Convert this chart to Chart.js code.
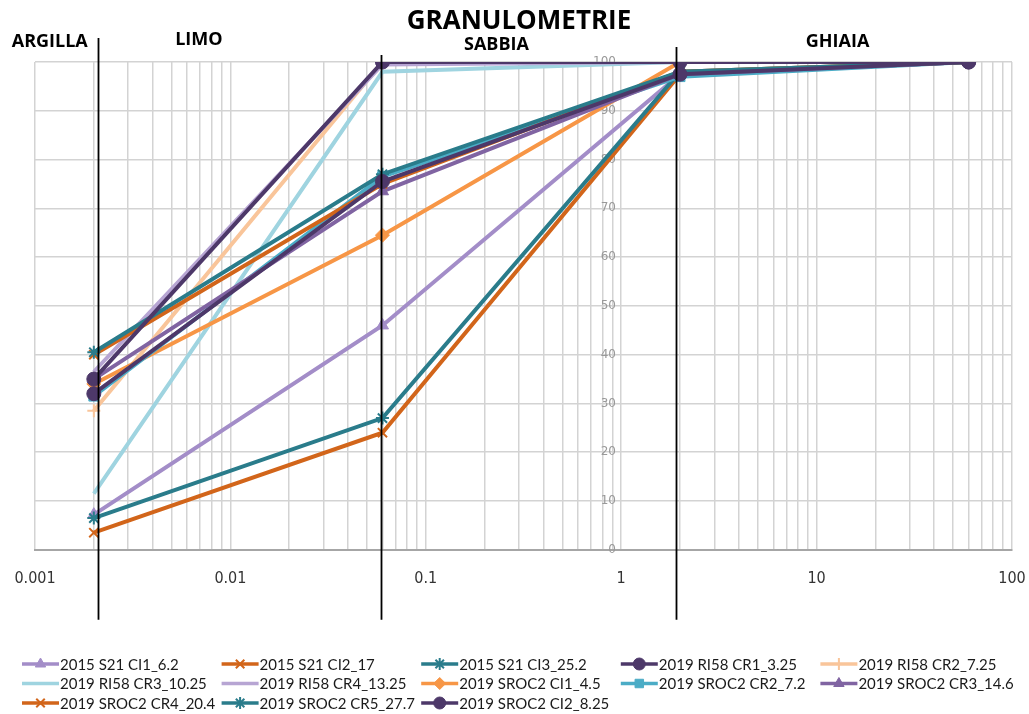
<!DOCTYPE html>
<html>
<head>
<meta charset="utf-8">
<title>Granulometrie</title>
<script src="https://cdn.jsdelivr.net/npm/chart.js@4.4.1/dist/chart.umd.min.js"></script>
<style>
  html, body { margin: 0; padding: 0; background: #fff; }
  #wrap { width: 1029px; height: 714px; position: relative; }
</style>
</head>
<body>
<div id="wrap"><canvas id="granChart"></canvas></div>
<script>
// diametri (mm) dei setacci
const sizes = [0.002, 0.06, 2, 60];

// passante cumulativo (%) per ogni campione
const s2015_CI1 = [7.2, 46, 97.5, 100];
const s2015_CI2 = [3.5, 24, 97.5, 100];
const s2015_CI3 = [6.5, 27, 98, 100];
const ri58_CR1 = [32, 75.5, 97.5, 100];
const ri58_CR2 = [28.5, 100, 100, 100];
const ri58_CR3 = [11.5, 98, 100, 100];
const ri58_CR4 = [36.5, 99.5, 100, 100];
const sroc2_CI1 = [34, 64.5, 100, 100];
const sroc2_CR2 = [31.5, 76.5, 97, 100];
const sroc2_CR3 = [35, 73.5, 97.5, 100];
const sroc2_CR4 = [40, 75, 98, 100];
const sroc2_CR5 = [40.5, 77, 98, 100];
const sroc2_CI2 = [35, 100, 100, 100];

const seriesNames = [
    '2015 S21 CI1_6.2', '2015 S21 CI2_17', '2015 S21 CI3_25.2', '2019 RI58 CR1_3.25', '2019 RI58 CR2_7.25',
    '2019 RI58 CR3_10.25', '2019 RI58 CR4_13.25', '2019 SROC2 CI1_4.5', '2019 SROC2 CR2_7.2', '2019 SROC2 CR3_14.6',
    '2019 SROC2 CR4_20.4', '2019 SROC2 CR5_27.7', '2019 SROC2 CI2_8.25'
];
const seriesValues = [
    s2015_CI1, s2015_CI2, s2015_CI3, ri58_CR1, ri58_CR2,
    ri58_CR3, ri58_CR4, sroc2_CI1, sroc2_CR2, sroc2_CR3,
    sroc2_CR4, sroc2_CR5, sroc2_CI2
];
const seriesColors = [
    '#A38DC8', '#D2651A', '#2A7C8B', '#4D3869', '#F9C59A',
    '#9FD4E0', '#B7A5D3', '#F79646', '#4BACC6', '#8064A2',
    '#D2651A', '#2A7C8B', '#4D3869'
];
const seriesMarkers = [
    'triangle', 'crossRot', 'star', 'circle', 'cross',
    false, false, 'rectRot', 'rect', 'triangle',
    'crossRot', 'star', 'circle'
];

// etichette asse x (decadi) e y
const xDecades = [0.001, 0.01, 0.1, 1, 10, 100];
const xTickLabels = ['0.001', '0.01', '0.1', '1', '10', '100'];
const yTicks = [0, 10, 20, 30, 40, 50, 60, 70, 80, 90, 100];

// limiti delle classi granulometriche
const zoneNames = ['ARGILLA', 'LIMO', 'SABBIA', 'GHIAIA'];
const zoneCenters = [0.00119, 0.0069, 0.23, 12.8];
const zoneBounds = [0.0021, 0.059, 1.9];

function isStroked(m) {
    return m === 'cross' || m === 'crossRot' || m === 'star';
}

// costruisce i dataset (le serie successive stanno sopra, CR1 in primo piano)
const datasets = seriesNames.map((name, i) => {
    const marker = seriesMarkers[i];
    return {
        label: name,
        data: sizes.map((s, j) => ({ x: s, y: seriesValues[i][j] })),
        borderColor: seriesColors[i],
        backgroundColor: seriesColors[i],
        borderWidth: 4,
        pointStyle: marker || 'circle',
        pointRadius: marker ? (isStroked(marker) ? 6.5 : 7) : 0,
        pointBorderWidth: isStroked(marker) ? 2 : 1,
        pointBackgroundColor: seriesColors[i],
        pointBorderColor: seriesColors[i],
        tension: 0,
        order: i === 3 ? -20 : -i
    };
});

// linee verticali, titolo, etichette classi
const decorPlugin = {
    id: 'decor',
    afterDatasetsDraw(chart) {
        const { ctx, chartArea, scales } = chart;
        const tops = [-24, -7, -15];
        ctx.save();
        ctx.strokeStyle = '#000';
        ctx.lineWidth = 1.8;
        zoneBounds.forEach((v, i) => {
            const px = Math.round(scales.x.getPixelForValue(v)) + 0.5;
            ctx.beginPath();
            ctx.moveTo(px, chartArea.top + tops[i]);
            ctx.lineTo(px, chartArea.bottom + 70);
            ctx.stroke();
        });
        ctx.restore();
    },
    afterDraw(chart) {
        const { ctx, chartArea, scales } = chart;
        ctx.save();
        ctx.fillStyle = '#000';
        ctx.textAlign = 'center';
        ctx.textBaseline = 'middle';
        ctx.font = 'bold 26px "Open Sans", sans-serif';
        ctx.fillText('GRANULOMETRIE', 519, 22);
        ctx.font = 'bold 18px "Open Sans", sans-serif';
        const offs = [-20, -22, -17, -20];
        zoneNames.forEach((z, i) => {
            ctx.fillText(z, scales.x.getPixelForValue(zoneCenters[i]), chartArea.top + offs[i]);
        });

        // legenda con linea + marcatore
        const left = 22, colW = 199.6, top = 664, rowH = 19.5, lineLen = 37;
        ctx.textAlign = 'left';
        ctx.font = '15px Lato, "Open Sans", sans-serif';
        chart.data.datasets.forEach((ds, i) => {
            const col = i % 5, row = Math.floor(i / 5);
            const x0 = left + col * colW, y0 = top + row * rowH;
            ctx.strokeStyle = ds.borderColor;
            ctx.lineWidth = 3.5;
            ctx.beginPath();
            ctx.moveTo(x0, y0);
            ctx.lineTo(x0 + lineLen, y0);
            ctx.stroke();
            if (seriesMarkers[i]) {
                ctx.fillStyle = ds.backgroundColor;
                ctx.lineWidth = ds.pointBorderWidth;
                Chart.helpers.drawPoint(ctx, {
                    pointStyle: seriesMarkers[i],
                    radius: 6,
                    rotation: 0,
                    borderWidth: ds.pointBorderWidth
                }, x0 + lineLen / 2, y0);
            }
            ctx.fillStyle = '#1a1a1a';
            ctx.fillText(ds.label, x0 + lineLen + 1, y0 + 1);
        });
        ctx.restore();
    }
};

const ctx = document.getElementById('granChart').getContext('2d');
new Chart(ctx, {
    type: 'line',
    data: { datasets: datasets },
    plugins: [decorPlugin],
    options: {
        responsive: true,
        maintainAspectRatio: false,
        animation: false,
        devicePixelRatio: 1,
        layout: { padding: { left: 35, right: 17, top: 62, bottom: 123 } },
        plugins: {
            legend: { display: false },
            tooltip: { enabled: false }
        },
        scales: {
            x: {
                type: 'logarithmic',
                min: 0.001,
                max: 100,
                afterBuildTicks(scale) {
                    const ticks = [];
                    xDecades.forEach((d, k) => {
                        if (k === xDecades.length - 1) { ticks.push({ value: d }); return; }
                        for (let m = 1; m <= 9; m++) ticks.push({ value: Number((m * d).toPrecision(3)) });
                    });
                    scale.ticks = ticks;
                },
                ticks: {
                    autoSkip: false,
                    maxRotation: 0,
                    padding: 3,
                    color: '#333',
                    font: { family: '"Liberation Sans Narrow", "DejaVu Sans Condensed", sans-serif', size: 16 },
                    callback(value) {
                        const k = xDecades.findIndex(d => Math.abs(d - value) < d * 1e-6);
                        return k >= 0 ? xTickLabels[k] : '';
                    }
                },
                grid: { color: '#D3D3D3', lineWidth: 1.5, drawTicks: true, tickLength: 16, tickColor: 'rgba(0,0,0,0)' },
                border: { color: '#A6A6A6', width: 2 }
            },
            y: {
                // l'asse incrocia vicino a 1 mm (etichette appena a sinistra)
                position: { x: 0.94 },
                min: 0,
                max: 100,
                afterBuildTicks(scale) {
                    scale.ticks = yTicks.map(v => ({ value: v }));
                },
                ticks: {
                    color: '#999999',
                    font: { family: '"DejaVu Sans", sans-serif', size: 12 }
                },
                grid: { color: '#D3D3D3', lineWidth: 1.5, drawTicks: false },
                border: { display: false }
            }
        }
    }
});
</script>
</body>
</html>
